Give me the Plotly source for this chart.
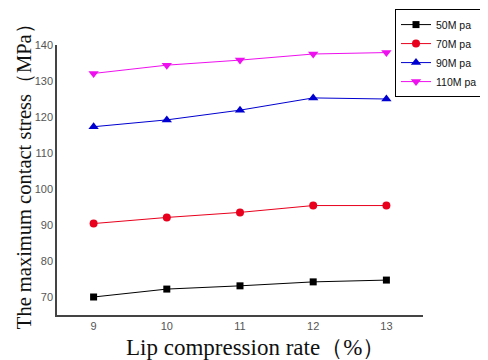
import plotly.graph_objects as go

x_vals = [9, 10, 11, 12, 13]
s50 = [70.0, 72.2, 73.1, 74.2, 74.7]
s70 = [90.4, 92.1, 93.5, 95.4, 95.4]
s90 = [117.3, 119.2, 121.9, 125.3, 125.0]
s110 = [132.1, 134.4, 135.8, 137.5, 137.9]
names = ["50M pa", "70M pa", "90M pa", "110M pa"]
y_ticks = [70, 80, 90, 100, 110, 120, 130, 140]
x_title = "Lip compression rate（%）"
y_title = "The maximum contact stress（MPa）"

series = [s50, s70, s90, s110]
colors = ["#000000", "#e8001c", "#0000d0", "#ee10ee"]
symbols = ["square", "circle", "triangle-up", "triangle-down"]
sizes = [7, 8, 9, 9]

fig = go.Figure()
for ys, n, c, s, sz in zip(series, names, colors, symbols, sizes):
    fig.add_trace(go.Scatter(x=x_vals, y=ys, name=n, mode="lines+markers",
                             line=dict(color=c, width=1),
                             marker=dict(symbol=s, size=sz, color=c)))

title_font = dict(family="Liberation Serif, Times New Roman", color="#111")

# page body has an 8px margin, so the figure is 480x352 and shifted by 8px
fig.update_layout(
    width=480, height=352,
    margin=dict(l=49, r=65, t=37, b=45, autoexpand=False),
    paper_bgcolor="white", plot_bgcolor="white",
    font=dict(family="Liberation Sans, Arial", size=11, color="#555"),
    legend=dict(x=0.9235, y=1.133, xanchor="left", yanchor="top",
                bordercolor="#000", borderwidth=1, bgcolor="white",
                font=dict(size=10.5, color="#111"), tracegroupgap=0,
                entrywidth=80, entrywidthmode="pixels"),
    annotations=[
        dict(text=x_title, xref="paper", yref="paper", x=0.541, y=-0.122,
             xanchor="center", yanchor="middle", showarrow=False,
             font=dict(size=23, **title_font)),
        dict(text=y_title, xref="paper", yref="paper", x=-0.0915, y=0.531,
             xanchor="center", yanchor="middle", showarrow=False, textangle=-90,
             font=dict(size=20.5, **title_font)),
    ],
)
fig.update_xaxes(range=[8.5, 13.5], tickvals=x_vals, showgrid=False, zeroline=False,
                 showline=True, linecolor="#444", linewidth=1.5, ticks="")
fig.update_yaxes(range=[65, 140], tickvals=y_ticks, showgrid=False, zeroline=False,
                 showline=True, linecolor="#444", linewidth=1.5, ticks="")
fig.write_html("out.html")
